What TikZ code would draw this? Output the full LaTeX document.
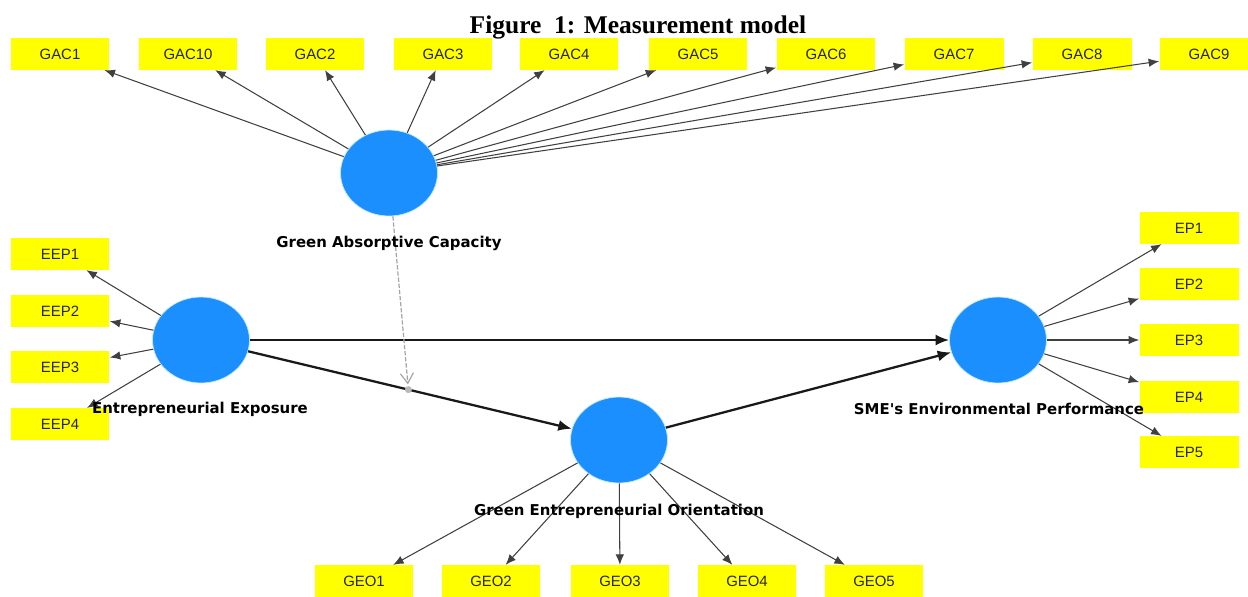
\documentclass[tikz,border=0pt]{standalone}
\usepackage{fontspec}
\setmainfont{Liberation Serif}
\newfontfamily\indfont{Liberation Sans}
\newfontfamily\latfont{DejaVu Sans}
\usepackage{xcolor}
\usepackage{tikz}
\usetikzlibrary{arrows.meta,calc,positioning,shapes.geometric}
\definecolor{latblue}{RGB}{28,143,255}
\definecolor{indyellow}{RGB}{255,255,0}

\begin{document}
\begin{tikzpicture}[x=0.02cm,y=-0.02cm,
  ind/.style={fill=indyellow,minimum width=1.98cm,minimum height=0.63cm,inner sep=0pt,
    font=\indfont\fontsize{8.5}{10}\selectfont,text=black!85},
  lat/.style={ellipse,fill=latblue,draw=cyan!25,line width=0.4pt,
    minimum width=1.94cm,minimum height=1.72cm,inner sep=0pt},
  latlabel/.style={font=\latfont\bfseries\fontsize{8.5}{10}\selectfont,text=black},
  load/.style={draw=black!75,line width=0.6pt,-{Latex[length=2.1mm,width=1.7mm]}},
  path/.style={draw=black!90,line width=1.3pt,-{Latex[length=2.7mm,width=2.2mm]}}]
  \useasboundingbox (0,0) rectangle (1248,596);
  \node[anchor=base,font=\bfseries\fontsize{14.5}{16}\selectfont] (title) at (638,33)
    {Figure\ \ 1: Measurement model};
  % latent variables
  \node[lat] (gac) at (389,173) {};
  \node[lat] (ee) at (201,340) {};
  \node[lat] (geo) at (619,440) {};
  \node[lat] (ep) at (998,340) {};
  % indicators
  \node[ind] (gac1) at (60,54) {GAC1};
  \node[ind] (gac10) at (188,54) {GAC10};
  \node[ind] (gac2) at (315,54) {GAC2};
  \node[ind] (gac3) at (443,54) {GAC3};
  \node[ind] (gac4) at (569,54) {GAC4};
  \node[ind] (gac5) at (698,54) {GAC5};
  \node[ind] (gac6) at (826,54) {GAC6};
  \node[ind] (gac7) at (954,54) {GAC7};
  \node[ind] (gac8) at (1082,54) {GAC8};
  \node[ind] (gac9) at (1209,54) {GAC9};
  \node[ind] (eep1) at (60,254) {EEP1};
  \node[ind] (eep2) at (60,311) {EEP2};
  \node[ind] (eep3) at (60,367) {EEP3};
  \node[ind] (eep4) at (60,424) {EEP4};
  \node[ind] (ep1) at (1189,228) {EP1};
  \node[ind] (ep2) at (1189,284) {EP2};
  \node[ind] (ep3) at (1189,340) {EP3};
  \node[ind] (ep4) at (1189,397) {EP4};
  \node[ind] (ep5) at (1189,452) {EP5};
  \node[ind] (geo1) at (364,581) {GEO1};
  \node[ind] (geo2) at (491,581) {GEO2};
  \node[ind] (geo3) at (620,581) {GEO3};
  \node[ind] (geo4) at (747,581) {GEO4};
  \node[ind] (geo5) at (874,581) {GEO5};
  % loadings
  \draw[load] (gac) -- (gac1);  \draw[load] (gac) -- (gac10);
  \draw[load] (gac) -- (gac2);  \draw[load] (gac) -- (gac3);
  \draw[load] (gac) -- (gac4);  \draw[load] (gac) -- (gac5);
  \draw[load] (gac) -- (gac6);  \draw[load] (gac) -- (gac7);
  \draw[load] (gac) -- (gac8);  \draw[load] (gac) -- (gac9);
  \draw[load] (ee) -- (eep1);   \draw[load] (ee) -- (eep2);
  \draw[load] (ee) -- (eep3);   \draw[load] (ee) -- (eep4);
  \draw[load] (ep) -- (ep1);    \draw[load] (ep) -- (ep2);
  \draw[load] (ep) -- (ep3);    \draw[load] (ep) -- (ep4);
  \draw[load] (ep) -- (ep5);
  \draw[load] (geo) -- (geo1);  \draw[load] (geo) -- (geo2);
  \draw[load] (geo) -- (geo3);  \draw[load] (geo) -- (geo4);
  \draw[load] (geo) -- (geo5);
  % structural paths
  \draw[path] (ee) -- (ep);
  \draw[path] (ee) -- (geo) coordinate[pos=0.495] (mod);
  \draw[path] (geo) -- (ep);
  % moderating effect
  \draw[gray!70,line width=0.7pt,dash pattern=on 2.5pt off 1pt,shorten >=3pt,
    -{Straight Barb[length=2mm,width=2.6mm]}] (gac) -- (mod);
  \fill[gray!55] (mod) circle (2pt);
  % latent labels
  \node[latlabel] (gaclab) at (389,243) {Green Absorptive Capacity};
  \node[latlabel] (eelab) at (200,409) {Entrepreneurial Exposure};
  \node[latlabel] (eplab) at (999,409) {SME's Environmental Performance};
  \node[latlabel] (geolab) at (619,511) {Green Entrepreneurial Orientation};
\end{tikzpicture}
\end{document}
